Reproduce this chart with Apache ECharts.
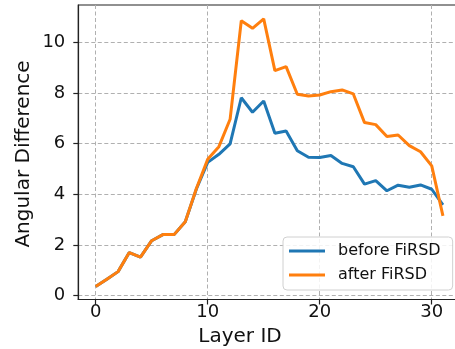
<!DOCTYPE html>
<html>
<head>
<meta charset="utf-8">
<script src="https://cdn.jsdelivr.net/npm/echarts@6/dist/echarts.min.js"></script>
<style>html,body{margin:0;padding:0;background:#fff;overflow:hidden;width:455px;height:349px}#c{width:470px;height:349px}</style>
</head>
<body>
<div id="c"></div>
<script>
const layers = [0,1,2,3,4,5,6,7,8,9,10,11,12,13,14,15,16,17,18,19,20,21,22,23,24,25,26,27,28,29,30,31];
const beforeFiRSD = [0.36,0.65,0.95,1.70,1.52,2.17,2.41,2.41,2.92,4.22,5.26,5.58,5.99,7.81,7.24,7.68,6.41,6.50,5.72,5.46,5.45,5.53,5.22,5.09,4.40,4.54,4.14,4.36,4.28,4.37,4.20,3.58];
const afterFiRSD = [0.36,0.65,0.95,1.70,1.52,2.17,2.41,2.41,2.92,4.24,5.38,5.88,6.96,10.85,10.55,10.92,8.88,9.04,7.95,7.88,7.92,8.05,8.12,7.96,6.83,6.75,6.28,6.34,5.92,5.68,5.12,3.15];
const xTicks = [0,10,20,30];
const yTicks = [0,2,4,6,8,10];
const seriesNames = ['before FiRSD','after FiRSD'];

const FONT = 'DejaVu Sans';
const chart = echarts.init(document.getElementById('c'), null, {renderer:'canvas'});
const gridLine = {show:true, lineStyle:{color:'#b0b0b0', width:1, type:[4,2.5]}};
chart.setOption({
  animation:false,
  grid:{left:78.3, top:5, width:382, height:294.5, show:true, borderColor:'#222', borderWidth:1.2, containLabel:false},
  xAxis:{type:'value', min:-1.55, max:32.55, splitNumber:3,
    axisLine:{onZero:false, lineStyle:{color:'#222', width:1.2}},
    axisTick:{show:true, inside:false, length:5, customValues:xTicks, lineStyle:{color:'#222', width:1.2}},
    axisLabel:{customValues:xTicks, margin:4, color:'#111', fontSize:18, fontFamily:FONT},
    splitLine:gridLine},
  yAxis:{type:'value', min:-0.15, max:11.47, splitNumber:5,
    axisLine:{show:true, onZero:false, lineStyle:{color:'#222', width:1.2}},
    axisTick:{show:true, inside:false, length:5, customValues:yTicks, lineStyle:{color:'#222', width:1.2}},
    axisLabel:{customValues:yTicks, margin:13, color:'#111', fontSize:18, fontFamily:FONT},
    splitLine:gridLine},
  legend:{orient:'vertical', left:283, top:237, data:seriesNames,
    icon:'rect', itemWidth:36, itemHeight:3, itemGap:8,
    padding:[6,12,7,6],
    backgroundColor:'rgba(255,255,255,0.85)', borderColor:'#d0d0d0', borderWidth:1, borderRadius:4,
    textStyle:{fontSize:16, fontFamily:FONT, color:'#111', padding:[0,0,0,8]}},
  graphic:[
    {type:'text', style:{text:'Layer ID', fontSize:20, fontFamily:FONT, fill:'#111', textAlign:'center', textVerticalAlign:'middle'}, x:240, y:337},
    {type:'text', style:{text:'Angular Difference', fontSize:20, fontFamily:FONT, fill:'#111', textAlign:'center', textVerticalAlign:'middle'}, x:24, y:154, rotation:Math.PI/2}
  ],
  series:[
    {name:seriesNames[0], type:'line', showSymbol:false, data:layers.map((l,i)=>[l,beforeFiRSD[i]]), lineStyle:{width:3, color:'#1f77b4'}, itemStyle:{color:'#1f77b4'}, z:2},
    {name:seriesNames[1], type:'line', showSymbol:false, data:layers.map((l,i)=>[l,afterFiRSD[i]]), lineStyle:{width:3, color:'#ff7f0e'}, itemStyle:{color:'#ff7f0e'}, z:3}
  ]
});
</script>
</body>
</html>
